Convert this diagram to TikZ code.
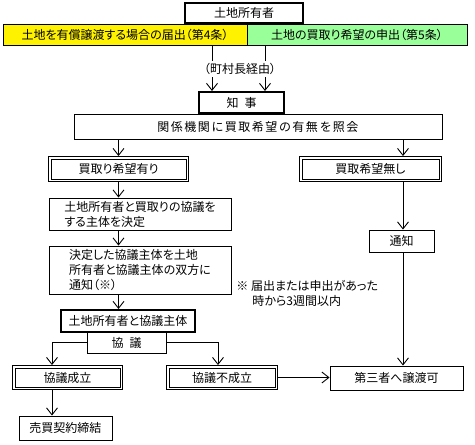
\documentclass[tikz,border=0pt]{standalone}
\usepackage{fontspec}
\setmainfont{Noto Sans CJK JP}[RawFeature=+palt]
\usetikzlibrary{arrows.meta}
\definecolor{offergreen}{HTML}{99FF99}
\def\spreadchars#1{\ifx#1\relax\else\makebox[13.5pt]{#1}\expandafter\spreadchars\fi}

\begin{document}
\begin{tikzpicture}[x=1pt,y=-1pt,line width=.9pt,
  >={Straight Barb[length=7pt,width=11pt]},
  every node/.style={font=\fontsize{12}{15}\selectfont,inner sep=0pt},
  box/.style={draw},
  heavy/.style={draw,line width=2pt},
  pairbox/.style={draw,path picture={\draw
    ([xshift=2.5pt,yshift=-2.5pt]path picture bounding box.north west) rectangle
    ([xshift=-2.5pt,yshift=2.5pt]path picture bounding box.south east);}}]
  \useasboundingbox (0,0) rectangle (475,445);
  \node[heavy,minimum width=118,minimum height=20] (owner) at (244,13) {土地所有者};
  \node[box,fill=yellow,minimum width=244,minimum height=21] (sale) at (125,34.5)
    {土地を有償譲渡する場合の届出（第4条）};
  \node[box,fill=offergreen,minimum width=220,minimum height=21] (offer) at (357,34.5)
    {土地の買取り希望の申出（第5条）};
  \node[heavy,minimum width=85,minimum height=21] (governor) at (241.5,102.5) {知\hspace{6pt}事};
  \coordinate (viaL) at (212,0);
  \coordinate (viaR) at (265,0);
  \draw[->] (viaL |- sale.south) -- (viaL |- governor.north);
  \draw[->] (viaR |- offer.south) -- (viaR |- governor.north);
  \node[fill=white,inner ysep=2pt] (via) at (240,69) {（町村長経由）};
  \node[box,minimum width=368,minimum height=25] (inquiry) at (258,126.5)
    {\spreadchars 関係機関に買取希望の有無を照会\relax};
  \coordinate (colR) at (403,0);
  \node[pairbox,minimum width=140,minimum height=25] (yes) at (118.5,169) {買取り希望有り};
  \node[pairbox,minimum width=142,minimum height=25] (no) at (370.5,169) {買取希望無し};
  \draw[->] (yes.north |- inquiry.south) -- (yes.north);
  \draw[->] (colR |- inquiry.south) -- (colR |- no.north);
  \node[box,align=left,minimum width=182,minimum height=32] (decide) at (140,214)
    {土地所有者と買取りの協議を\\する主体を決定};
  \node[box,align=left,minimum width=182,minimum height=48] (notice) at (140,270)
    {決定した協議主体を土地\\所有者と協議主体の双方に\\通知（※）};
  \node[align=left,anchor=west] (term) at (236,293.5)
    {※ 届出または申出があった\\\hspace*{16pt}時から3週間以内};
  \draw[->] (yes.south) -- (yes.south |- decide.north);
  \draw[->] (yes.south |- decide.south) -- (yes.south |- notice.north);
  \node[heavy,minimum width=134,minimum height=22] (parties) at (128,321) {土地所有者と協議主体};
  \draw[->] (yes.south |- notice.south) -- (yes.south |- parties.north);
  \node[box,minimum width=79,minimum height=21] (talks) at (126.5,342.5) {協\hspace{6pt}議};
  \node[pairbox,minimum width=110,minimum height=24] (agreed) at (67.5,377.5) {協議成立};
  \node[pairbox,minimum width=111,minimum height=24] (failed) at (222,377.5) {協議不成立};
  \node[box,minimum width=133,minimum height=24] (third) at (396.5,378) {第三者へ譲渡可};
  \node[box,minimum width=93,minimum height=24] (contract) at (65.5,428) {売買契約締結};
  \node[box,minimum width=65,minimum height=22] (notify) at (401.5,241) {通知};
  \coordinate (colA) at (52,0);
  \coordinate (colB) at (218,0);
  \draw[->] (talks.west) -| (colA |- agreed.north);
  \draw[->] (talks.east) -| (colB |- failed.north);
  \draw[->] (colA |- agreed.south) -- (colA |- contract.north);
  \draw[->] (failed.east) -- (failed.east -| third.west);
  \draw[->] (colR |- no.south) -- (colR |- notify.north);
  \draw[->] (colR |- notify.south) -- (colR |- third.north);
\end{tikzpicture}
\end{document}
